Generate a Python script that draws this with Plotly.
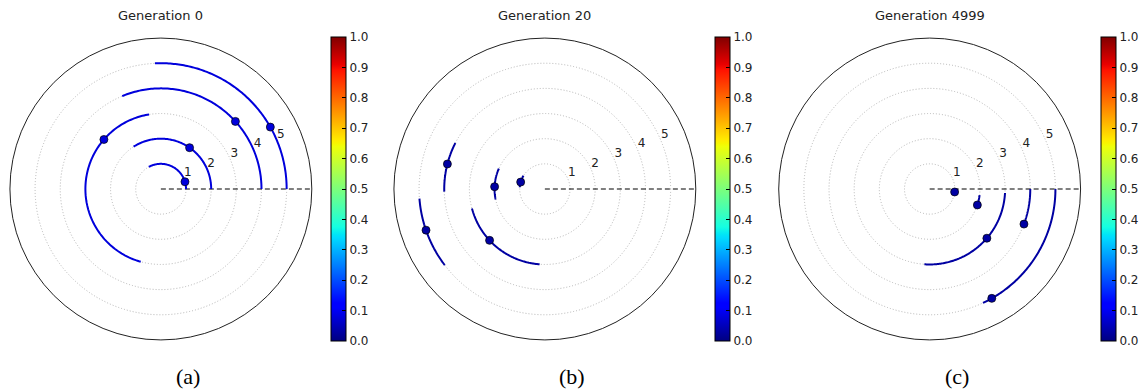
import numpy as np
import plotly.graph_objects as go

# ---------------- data ----------------
titles = ["Generation 0", "Generation 20", "Generation 4999"]
panel_labels = ["(a)", "(b)", "(c)"]
radial_ticks = [1, 2, 3, 4, 5]
radial_tick_text = ["1", "2", "3", "4", "5"]
radial_label_angle = 22.5
colorbar_ticks = [0.0, 0.1, 0.2, 0.3, 0.4, 0.5, 0.6, 0.7, 0.8, 0.9, 1.0]

# arc radius, start angle, end angle (deg), point angle (deg), colour value
gen0_radius = [1, 2, 3, 4, 5]
gen0_start = [0, 0, 99, 0, 0]
gen0_end = [118.6, 122.8, 254.5, 112.6, 92.7]
gen0_point = [16.7, 55.2, 139, 42.2, 29.5]
gen0_value = [0.08, 0.08, 0.08, 0.08, 0.08]

gen20_radius = [1, 2, 3, 4, 5]
gen20_start = [148, 156, 195, 152.8, 184.4]
gen20_end = [176, 192, 266, 181.5, 217.3]
gen20_point = [164, 177.4, 222.9, 165.6, 199.1]
gen20_value = [0.03, 0.03, 0.03, 0.03, 0.03]

gen4999_radius = [1, 2, 3, 4, 5]
gen4999_start = [-3, -7, -3, 0, 0]
gen4999_end = [-8, -19, -94, -20.4, -64.9]
gen4999_point = [-6.8, -18.5, -40.7, -20.4, -60.4]
gen4999_value = [0.03, 0.03, 0.03, 0.03, 0.03]

panels = [
    (gen0_radius, gen0_start, gen0_end, gen0_point, gen0_value),
    (gen20_radius, gen20_start, gen20_end, gen20_point, gen20_value),
    (gen4999_radius, gen4999_start, gen4999_end, gen4999_point, gen4999_value),
]

# ---------------- matplotlib-style jet colormap ----------------
red_pts = ([0, 0.35, 0.66, 0.89, 1], [0, 0, 1, 1, 0.5])
green_pts = ([0, 0.125, 0.375, 0.64, 0.91, 1], [0, 0, 1, 1, 0, 0])
blue_pts = ([0, 0.11, 0.34, 0.65, 1], [0.5, 1, 1, 0, 0])


def jet(v):
    r = np.interp(v, *red_pts)
    g = np.interp(v, *green_pts)
    b = np.interp(v, *blue_pts)
    return "rgb(%d,%d,%d)" % (round(r * 255), round(g * 255), round(b * 255))


stops = sorted(set(red_pts[0] + green_pts[0] + blue_pts[0]))
jet_scale = [[s, jet(s)] for s in stops]

# ---------------- layout geometry ----------------
W, H = 1143, 389
centers_x = [162, 548.7, 936.2]
center_y = 189
R = 152
cbar_left = [333, 720, 1108.3]
label_x = [189, 576.5, 963.5]

fig = go.Figure()
layout_polars = {}

for i, (rad, st, en, pt, val) in enumerate(panels):
    pname = "polar" if i == 0 else "polar%d" % (i + 1)
    # dashed reference line along angle 0
    fig.add_trace(go.Scatterpolar(
        r=[0, 6], theta=[0, 0], mode="lines",
        line=dict(color="black", width=1, dash="5px,3px"),
        subplot=pname, showlegend=False, hoverinfo="skip"))
    # radial tick labels (upright, as in the reference)
    fig.add_trace(go.Scatterpolar(
        r=radial_ticks, theta=[radial_label_angle] * len(radial_ticks),
        mode="text", text=radial_tick_text, textposition="top right",
        textfont=dict(family="DejaVu Sans", size=12, color="#222"),
        subplot=pname, showlegend=False, hoverinfo="skip"))
    # arcs
    for k in range(len(rad)):
        th = np.linspace(st[k], en[k], 120)
        fig.add_trace(go.Scatterpolar(
            r=[rad[k]] * len(th), theta=th, mode="lines",
            line=dict(color=jet(val[k]), width=2),
            subplot=pname, showlegend=False, hoverinfo="skip"))
    # points + colorbar
    fig.add_trace(go.Scatterpolar(
        r=rad, theta=pt, mode="markers",
        marker=dict(size=8, color=val, colorscale=jet_scale, cmin=0, cmax=1,
                    line=dict(color="black", width=0.7),
                    showscale=True,
                    colorbar=dict(
                        x=cbar_left[i] / W, xanchor="left", xpad=0,
                        y=(H - center_y) / H, yanchor="middle", ypad=0,
                        len=2 * R / H, lenmode="fraction",
                        thickness=15, outlinewidth=1, outlinecolor="black",
                        tickvals=colorbar_ticks, tickformat=".1f",
                        ticks="inside", ticklen=4, tickcolor="black",
                        tickfont=dict(family="DejaVu Sans", size=12, color="#222"))),
        subplot=pname, showlegend=False))

    cx = centers_x[i]
    layout_polars[pname] = dict(
        domain=dict(x=[(cx - R) / W, (cx + R) / W],
                    y=[(H - center_y - R) / H, (H - center_y + R) / H]),
        bgcolor="white",
        radialaxis=dict(range=[0, 6], tickvals=radial_ticks, angle=22.5,
                        showticklabels=False,
                        showline=False, ticks="", showgrid=True,
                        gridcolor="#b5b5b5", griddash="1px,2px", gridwidth=1),
        angularaxis=dict(showgrid=False, showticklabels=False, ticks="",
                         showline=True, linecolor="#222", linewidth=1,
                         rotation=0, direction="counterclockwise"),
    )

fig.update_layout(**layout_polars)

annotations = []
for i in range(3):
    annotations.append(dict(
        x=centers_x[i] / W, y=(H - 15) / H, xref="paper", yref="paper",
        text=titles[i], showarrow=False, xanchor="center", yanchor="middle",
        font=dict(family="DejaVu Sans", size=13, color="#222")))
    annotations.append(dict(
        x=label_x[i] / W, y=(H - 376) / H, xref="paper", yref="paper",
        text=panel_labels[i], showarrow=False, xanchor="center", yanchor="middle",
        font=dict(family="Liberation Serif", size=22, color="black")))

fig.update_layout(
    width=W, height=H, autosize=False,
    margin=dict(l=0, r=0, t=0, b=0),
    paper_bgcolor="white", plot_bgcolor="white",
    annotations=annotations,
    showlegend=False,
)

fig.write_html("out.html", config={"displayModeBar": False, "responsive": False},
               post_script="document.body.style.margin='0';document.body.style.overflow='hidden';")
